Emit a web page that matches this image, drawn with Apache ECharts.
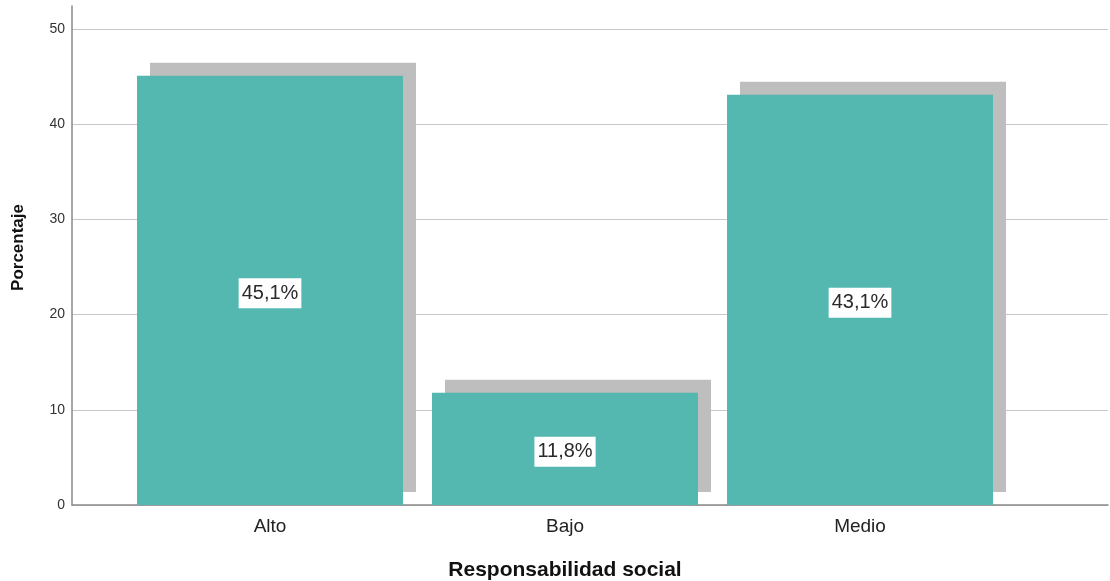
<!DOCTYPE html>
<html>
<head>
<meta charset="utf-8">
<script src="https://cdn.jsdelivr.net/npm/echarts@6/dist/echarts.min.js"></script>
<style>
  html, body { margin: 0; padding: 0; background: #ffffff; }
  #chart { width: 1110px; height: 581px; }
</style>
</head>
<body>
<div id="chart"></div>
<script>
// Responsabilidad social — percentage per level
const categories = ['Alto', 'Bajo', 'Medio'];
const percentages = [45.1, 11.8, 43.1];
const yTicks = [0, 10, 20, 30, 40, 50];

const FONT = '"Liberation Sans", Arial, sans-serif';
const BAR_COLOR = '#55b8b0';
const SHADOW_COLOR = '#bebebe';

const chart = echarts.init(document.getElementById('chart'), null, { renderer: 'canvas' });

const option = {
  backgroundColor: '#ffffff',
  animation: false,
  grid: [
    // frame: axis lines spanning the full plot
    { left: 72, right: 2, top: 6, bottom: 76, outerBoundsMode: 'none' },
    // gridlines and value labels
    { left: 72, right: 2, top: 29, bottom: 76, outerBoundsMode: 'none' },
    // bars
    { left: 122.5, right: 102.5, top: 29, bottom: 76, outerBoundsMode: 'none' }
  ],
  xAxis: [
    {
      gridIndex: 0, type: 'value', min: 0, max: 1,
      axisLine: { show: true, onZero: false, lineStyle: { color: '#8a8a8a', width: 1.5 } },
      axisTick: { show: false }, axisLabel: { show: false }, splitLine: { show: false }
    },
    {
      gridIndex: 1, type: 'value', min: 0, max: 1, show: false
    },
    {
      gridIndex: 2, type: 'category', data: categories,
      axisLine: { show: false }, axisTick: { show: false },
      axisLabel: { color: '#222', fontFamily: FONT, fontSize: 19, margin: 12 },
      name: 'Responsabilidad social', nameLocation: 'middle', nameGap: 55,
      nameTextStyle: { color: '#111', fontFamily: FONT, fontSize: 21, fontWeight: 'bold' }
    }
  ],
  yAxis: [
    {
      gridIndex: 0, type: 'value', min: 0, max: 52.4,
      axisLine: { show: true, lineStyle: { color: '#8a8a8a', width: 1.5 } },
      axisTick: { show: false }, axisLabel: { show: false }, splitLine: { show: false },
      name: 'Porcentaje', nameLocation: 'middle', nameGap: 45,
      nameTextStyle: { color: '#111', fontFamily: FONT, fontSize: 17, fontWeight: 'bold', padding: [0, 0, 0, 16] }
    },
    {
      gridIndex: 1, type: 'value', min: yTicks[0], max: yTicks[yTicks.length - 1], interval: 10,
      axisLine: { show: false }, axisTick: { show: false },
      axisLabel: { color: '#333', fontFamily: FONT, fontSize: 14, margin: 7 },
      splitLine: { show: true, lineStyle: { color: '#c8c8c8', width: 1 } }
    },
    {
      gridIndex: 2, type: 'value', min: yTicks[0], max: yTicks[yTicks.length - 1], show: false
    }
  ],
  series: [
    {
      type: 'bar',
      xAxisIndex: 2, yAxisIndex: 2,
      data: percentages,
      barWidth: 266,
      itemStyle: {
        color: BAR_COLOR,
        shadowColor: SHADOW_COLOR,
        shadowBlur: 0,
        shadowOffsetX: 13,
        shadowOffsetY: -13
      },
      emphasis: { disabled: true },
      label: {
        show: true,
        position: 'inside',
        offset: [0, 3],
        formatter: p => p.value.toFixed(1).replace('.', ',') + '%',
        color: '#2a2a2a',
        fontFamily: FONT,
        fontSize: 20,
        backgroundColor: '#ffffff',
        padding: [6, 3, 4, 3]
      }
    }
  ]
};

chart.setOption(option);
</script>
</body>
</html>
